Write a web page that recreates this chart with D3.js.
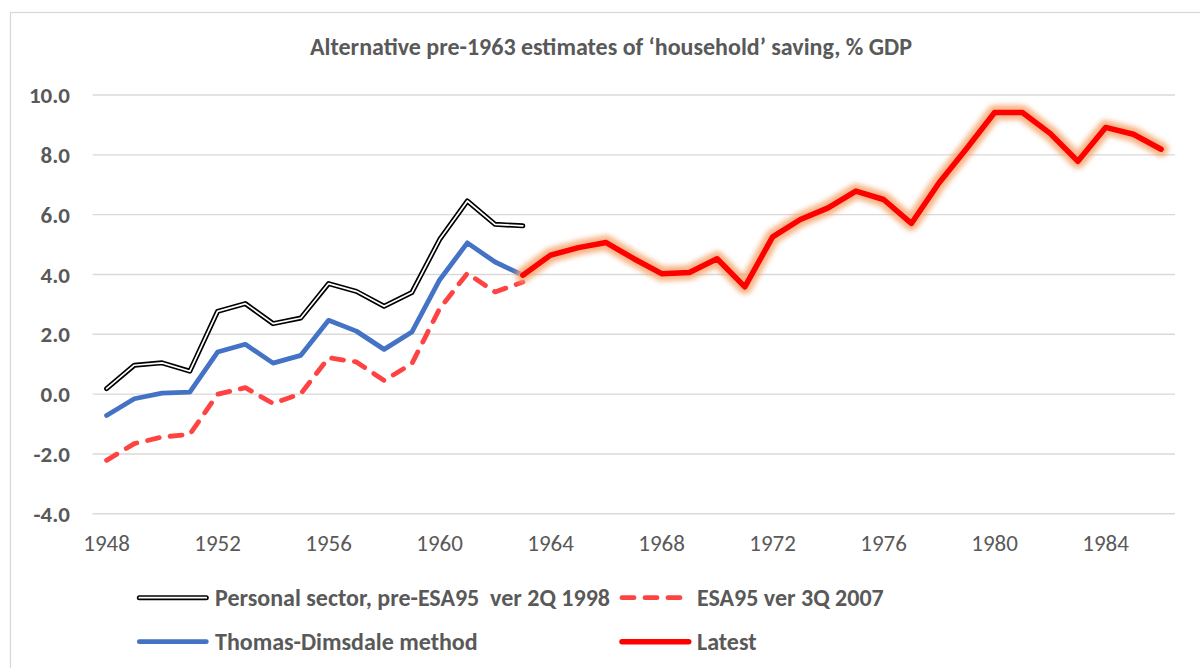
<!DOCTYPE html>
<html>
<head>
<meta charset="utf-8">
<script src="https://cdn.jsdelivr.net/npm/d3@7"></script>
<style>
  body { margin: 0; background: #fff; }
  svg text { font-family: Carlito, Calibri, Lato, sans-serif; fill: #595959; white-space: pre; }
</style>
</head>
<body>
<div class="chart"></div>
<script>
// years on the category axis
var years = d3.range(1948, 1987);
var tickYears = [1948, 1952, 1956, 1960, 1964, 1968, 1972, 1976, 1980, 1984];
var yTicks = [-4, -2, 0, 2, 4, 6, 8, 10];

// pre-1963 estimates, 1948..1963
var personalYears = d3.range(1948, 1964);
var personal = [0.17, 0.95, 1.03, 0.75, 2.75, 3.01, 2.34, 2.53, 3.68, 3.42, 2.92, 3.38, 5.15, 6.44, 5.66, 5.61];
var thomasDimsdale = [-0.73, -0.17, 0.02, 0.05, 1.39, 1.65, 1.02, 1.28, 2.45, 2.09, 1.48, 2.06, 3.8, 5.04, 4.4, 3.96];
var esa95 = [-2.23, -1.67, -1.45, -1.36, -0.02, 0.2, -0.33, 0.0, 1.2, 1.06, 0.44, 1.0, 2.84, 4.02, 3.4, 3.73];

// latest, 1963..1986
var latestYears = d3.range(1963, 1987);
var latest = [3.96, 4.63, 4.88, 5.05, 4.51, 4.01, 4.05, 4.51, 3.57, 5.24, 5.82, 6.21, 6.77, 6.49, 5.69, 7.05, 8.2, 9.4, 9.4, 8.7, 7.77, 8.9, 8.67, 8.17];

var seriesNames = ["Personal sector, pre-ESA95  ver 2Q 1998", "ESA95 ver 3Q 2007", "Thomas-Dimsdale method", "Latest"];

var width = 1200;
var height = 668;

var svg = d3
  .select(".chart")
  .append("svg")
  .attr("width", width)
  .attr("height", height);

var x = d3.scaleBand().domain(years).range([92.7, 1175]);
var y = d3.scaleLinear().domain([-4, 10]).range([513.3, 94.5]);

function cx(yr) {
  return x(yr) + x.bandwidth() / 2;
}

var defs = svg.append("defs");
defs
  .append("filter")
  .attr("id", "glow")
  .attr("x", "-10%")
  .attr("y", "-30%")
  .attr("width", "120%")
  .attr("height", "160%")
  .append("feGaussianBlur")
  .attr("stdDeviation", 2.4);

// chart border
svg
  .append("rect")
  .attr("x", 10.5)
  .attr("y", 12.5)
  .attr("width", 1300)
  .attr("height", 800)
  .attr("fill", "none")
  .attr("stroke", "#d9d9d9")
  .attr("stroke-width", 1.3);

svg
  .append("text")
  .attr("x", 611)
  .attr("y", 47)
  .attr("dy", "0.35em")
  .attr("text-anchor", "middle")
  .style("font-size", "24px")
  .style("font-weight", "bold")
  .text("Alternative pre-1963 estimates of \u2018household\u2019 saving, % GDP");

// grid + y labels
var yAxis = d3.axisLeft(y).tickValues(yTicks).tickSize(-(1175 - 92.7))
  .tickFormat(function (d) { return d3.format(".1f")(d).replace("\u2212", "-"); });
var gy = svg.append("g").attr("transform", "translate(92.7,0)").call(yAxis);
gy.select(".domain").remove();
gy.selectAll("line").attr("stroke", "#d9d9d9").attr("stroke-width", 1.4);
gy.selectAll("text")
  .attr("x", -22.7)
  .attr("dy", "0.35em")
  .style("font-size", "23px")
  .style("font-weight", "bold")
  .attr("fill", "#595959");

// x labels
var xAxis = d3.axisBottom(x).tickValues(tickYears).tickSize(0);
var gx = svg.append("g").attr("transform", "translate(0,513.3)").call(xAxis);
gx.select(".domain").remove();
gx.selectAll("text")
  .attr("y", 30)
  .attr("dy", "0.35em")
  .style("font-size", "23px")
  .attr("fill", "#595959");

var line = d3
  .line()
  .x(function (d) { return cx(d[0]); })
  .y(function (d) { return y(d[1]); });

var plot = svg.append("g").attr("class", "lines").attr("fill", "none")
  .attr("stroke-linejoin", "round").attr("stroke-linecap", "round");

var personalPts = d3.zip(personalYears, personal);
var thomasPts = d3.zip(personalYears, thomasDimsdale);
var esaPts = d3.zip(personalYears, esa95);
var latestPts = d3.zip(latestYears, latest);

plot.append("path").attr("d", line(personalPts)).attr("stroke", "#000").attr("stroke-width", 5);
plot.append("path").attr("d", line(personalPts)).attr("stroke", "#fff").attr("stroke-width", 1.7);

plot.append("path").attr("d", line(thomasPts)).attr("stroke", "#4472c4").attr("stroke-width", 4.8);

plot.append("path").attr("d", line(esaPts)).attr("stroke", "#ff4343").attr("stroke-width", 4.8)
  .attr("stroke-dasharray", "12,11");

plot.append("path").attr("d", line(latestPts)).attr("stroke", "#f5a36b").attr("stroke-width", 15)
  .attr("opacity", 0.8).attr("filter", "url(#glow)");
plot.append("path").attr("d", line(latestPts)).attr("stroke", "#ff0000").attr("stroke-width", 5.5);

// legend
var legendItems = [
  { name: seriesNames[0], x0: 137.3, x1: 208.3, y: 597.7 },
  { name: seriesNames[1], x0: 620, x1: 684, y: 597.7 },
  { name: seriesNames[2], x0: 137.3, x1: 208.3, y: 641.7 },
  { name: seriesNames[3], x0: 620, x1: 690.7, y: 641.7 }
];
var legend = svg.append("g").attr("class", "legend").attr("stroke-linecap", "round");

function swatch(item, stroke, w, dash) {
  var p = legend.append("line")
    .attr("x1", item.x0 + 2).attr("x2", item.x1 - 2)
    .attr("y1", item.y).attr("y2", item.y)
    .attr("stroke", stroke).attr("stroke-width", w);
  if (dash) p.attr("stroke-dasharray", dash);
}
swatch(legendItems[0], "#000", 5);
swatch(legendItems[0], "#fff", 1.7);
swatch(legendItems[1], "#ff4343", 4.8, "12,11");
swatch(legendItems[2], "#4472c4", 4.8);
swatch(legendItems[3], "#ff0000", 5.5);

legend
  .selectAll("text")
  .data(legendItems)
  .enter()
  .append("text")
  .attr("x", function (d, i) { return i % 2 == 0 ? 215 : 697; })
  .attr("y", function (d) { return d.y; })
  .attr("dy", "0.35em")
  .style("font-size", "24px")
  .style("font-weight", "bold")
  .text(function (d) { return d.name; });
</script>
</body>
</html>
